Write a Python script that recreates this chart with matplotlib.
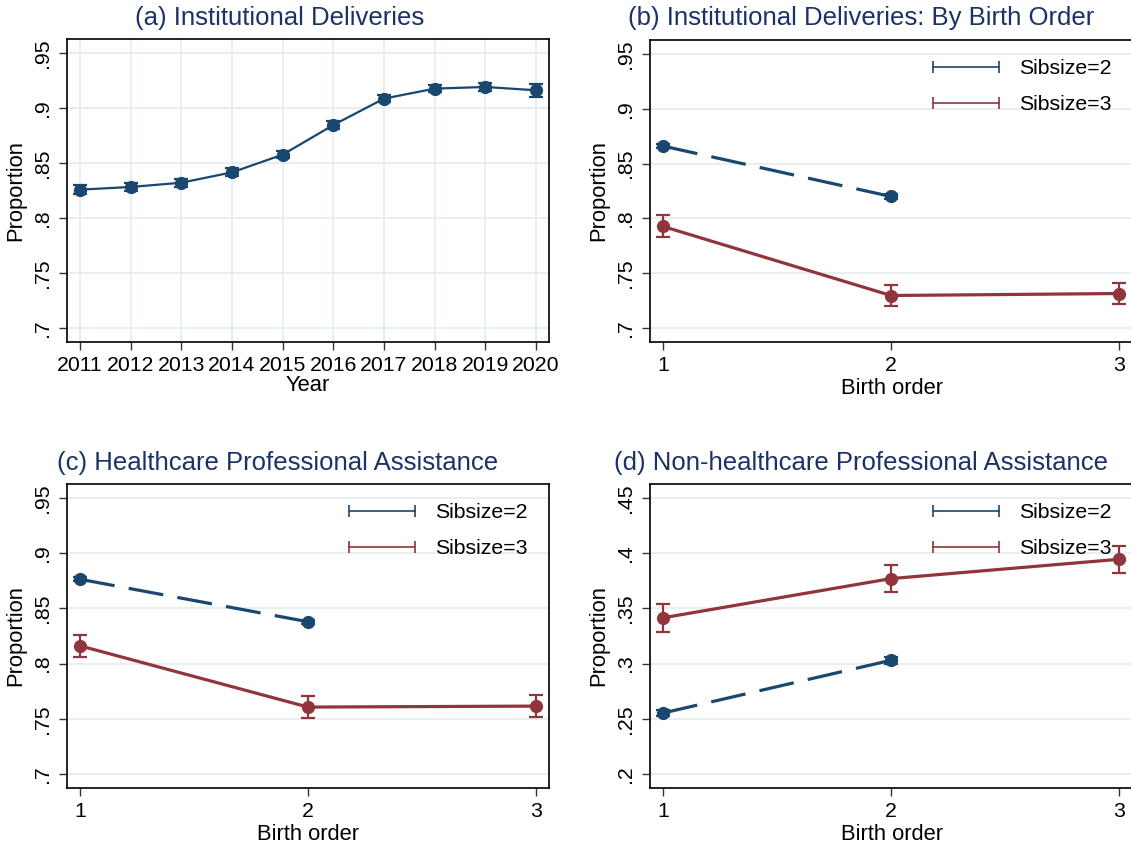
import matplotlib
matplotlib.use("Agg")
import matplotlib.pyplot as plt
from matplotlib.lines import Line2D

plt.rcParams['font.family'] = ['Liberation Sans', 'DejaVu Sans']

# ---- data ----
years = [2011, 2012, 2013, 2014, 2015, 2016, 2017, 2018, 2019, 2020]
inst_all = [0.8258, 0.8282, 0.8321, 0.8415, 0.8576, 0.8845, 0.9085, 0.9176, 0.9191, 0.9161]
inst_all_err = [0.004, 0.004, 0.0035, 0.0035, 0.0035, 0.0035, 0.0035, 0.0035, 0.0035, 0.006]

birth_order_2 = [1, 2]
birth_order_3 = [1, 2, 3]

inst_sib2 = [0.866, 0.820]
inst_sib2_err = [0.002, 0.002]
inst_sib3 = [0.7927, 0.7297, 0.7315]
inst_sib3_err = [0.010, 0.0098, 0.010]

hcp_sib2 = [0.8764, 0.8379]
hcp_sib2_err = [0.002, 0.002]
hcp_sib3 = [0.8161, 0.7606, 0.7615]
hcp_sib3_err = [0.010, 0.0097, 0.010]

nonhcp_sib2 = [0.2552, 0.3030]
nonhcp_sib2_err = [0.003, 0.003]
nonhcp_sib3 = [0.3415, 0.3770, 0.3945]
nonhcp_sib3_err = [0.0127, 0.0123, 0.0124]

yticks_hi = [0.7, 0.75, 0.8, 0.85, 0.9, 0.95]
yticklabels_hi = ['.7', '.75', '.8', '.85', '.9', '.95']
yticks_lo = [0.2, 0.25, 0.3, 0.35, 0.4, 0.45]
yticklabels_lo = ['.2', '.25', '.3', '.35', '.4', '.45']

titles = ['(a) Institutional Deliveries',
          '(b) Institutional Deliveries: By Birth Order',
          '(c) Healthcare Professional Assistance',
          '(d) Non-healthcare Professional Assistance']
legend_labels = ['Sibsize=2', 'Sibsize=3']

NAVY = '#1a476f'
MAROON = '#90353b'
TITLE_C = '#1c3166'
GRID_C = '#e6eef0'
FS = 15.3

W, H = 1131, 847
fig = plt.figure(figsize=(W / 100, H / 100), dpi=100)
fig.patch.set_facecolor('white')


def px_axes(x0, y0, x1, y1):
    return fig.add_axes([x0 / W, 1 - y1 / H, (x1 - x0) / W, (y1 - y0) / H])


def style(ax, yticks, ylabels):
    ax.set_yticks(yticks)
    ax.set_yticklabels(ylabels, rotation=90, va='center')
    ax.tick_params(axis='both', direction='out', length=6, width=1, color='#333333',
                   labelsize=FS, pad=4)
    ax.tick_params(axis='y', pad=5)
    for s in ax.spines.values():
        s.set_linewidth(1.2)
        s.set_color('black')
    ax.yaxis.grid(True, color=GRID_C, lw=1.3)
    ax.set_axisbelow(True)
    ax.set_ylabel('Proportion', fontsize=FS + 0.5)
    ax.yaxis.set_label_coords(-0.085, 0.5)


def series(ax, x, y, err, color, dashed, lw=2.3):
    ls = (0, (11, 4.5)) if dashed else '-'
    ax.errorbar(x, y, yerr=err, color=color, ecolor=color, elinewidth=1.6,
                capsize=5, capthick=1.6, marker='o', markersize=8.5, lw=lw,
                linestyle=ls, zorder=3)


def legend(ax, bbox):
    handles = [Line2D([], [], color=NAVY, lw=1.2, marker='|', markersize=9, mew=1.2),
               Line2D([], [], color=MAROON, lw=1.2, marker='|', markersize=9, mew=1.2)]
    ax.legend(handles, legend_labels, numpoints=2, frameon=False, loc='upper left',
              bbox_to_anchor=bbox, fontsize=FS, handlelength=3.7,
              handletextpad=0.65, labelspacing=0.8, borderaxespad=0)


# (a)
ax = px_axes(67, 39, 549, 342)
series(ax, years, inst_all, inst_all_err, NAVY, False, lw=1.6)
ax.set_xlim(2010.74, 2020.26)
ax.set_ylim(0.6873, 0.9627)
ax.set_xticks(years)
style(ax, yticks_hi, yticklabels_hi)
ax.xaxis.grid(True, color=GRID_C, lw=1.3)
ax.set_xlabel('Year', fontsize=FS + 0.5, labelpad=0)
fig.text(280 / W, 1 - 18 / H, titles[0], color=TITLE_C, fontsize=18.5,
         ha='center', va='center')

# (b)
ax = px_axes(650, 40, 1134, 342)
series(ax, birth_order_2, inst_sib2, inst_sib2_err, NAVY, True)
series(ax, birth_order_3, inst_sib3, inst_sib3_err, MAROON, False)
ax.set_xlim(0.943, 3.066)
ax.set_ylim(0.6873, 0.9627)
ax.set_xticks(birth_order_3)
style(ax, yticks_hi, yticklabels_hi)
ax.set_xlabel('Birth order', fontsize=FS + 0.5, labelpad=2)
legend(ax, (0.555, 0.965))
fig.text(861 / W, 1 - 18 / H, titles[1], color=TITLE_C, fontsize=18.5,
         ha='center', va='center')

# (c)
ax = px_axes(67, 484, 549, 788)
series(ax, birth_order_2, hcp_sib2, hcp_sib2_err, NAVY, True)
series(ax, birth_order_3, hcp_sib3, hcp_sib3_err, MAROON, False)
ax.set_xlim(0.943, 3.057)
ax.set_ylim(0.6873, 0.9627)
ax.set_xticks(birth_order_3)
style(ax, yticks_hi, yticklabels_hi)
ax.set_xlabel('Birth order', fontsize=FS + 0.5, labelpad=2)
legend(ax, (0.555, 0.965))
fig.text(278 / W, 1 - 463 / H, titles[2], color=TITLE_C, fontsize=18.5,
         ha='center', va='center')

# (d)
ax = px_axes(650, 484, 1134, 788)
series(ax, birth_order_2, nonhcp_sib2, nonhcp_sib2_err, NAVY, True)
series(ax, birth_order_3, nonhcp_sib3, nonhcp_sib3_err, MAROON, False)
ax.set_xlim(0.943, 3.066)
ax.set_ylim(0.1873, 0.4627)
ax.set_xticks(birth_order_3)
style(ax, yticks_lo, yticklabels_lo)
ax.set_xlabel('Birth order', fontsize=FS + 0.5, labelpad=2)
legend(ax, (0.555, 0.965))
fig.text(861 / W, 1 - 463 / H, titles[3], color=TITLE_C, fontsize=18.5,
         ha='center', va='center')

fig.savefig('out.png', dpi=100, facecolor='white')
